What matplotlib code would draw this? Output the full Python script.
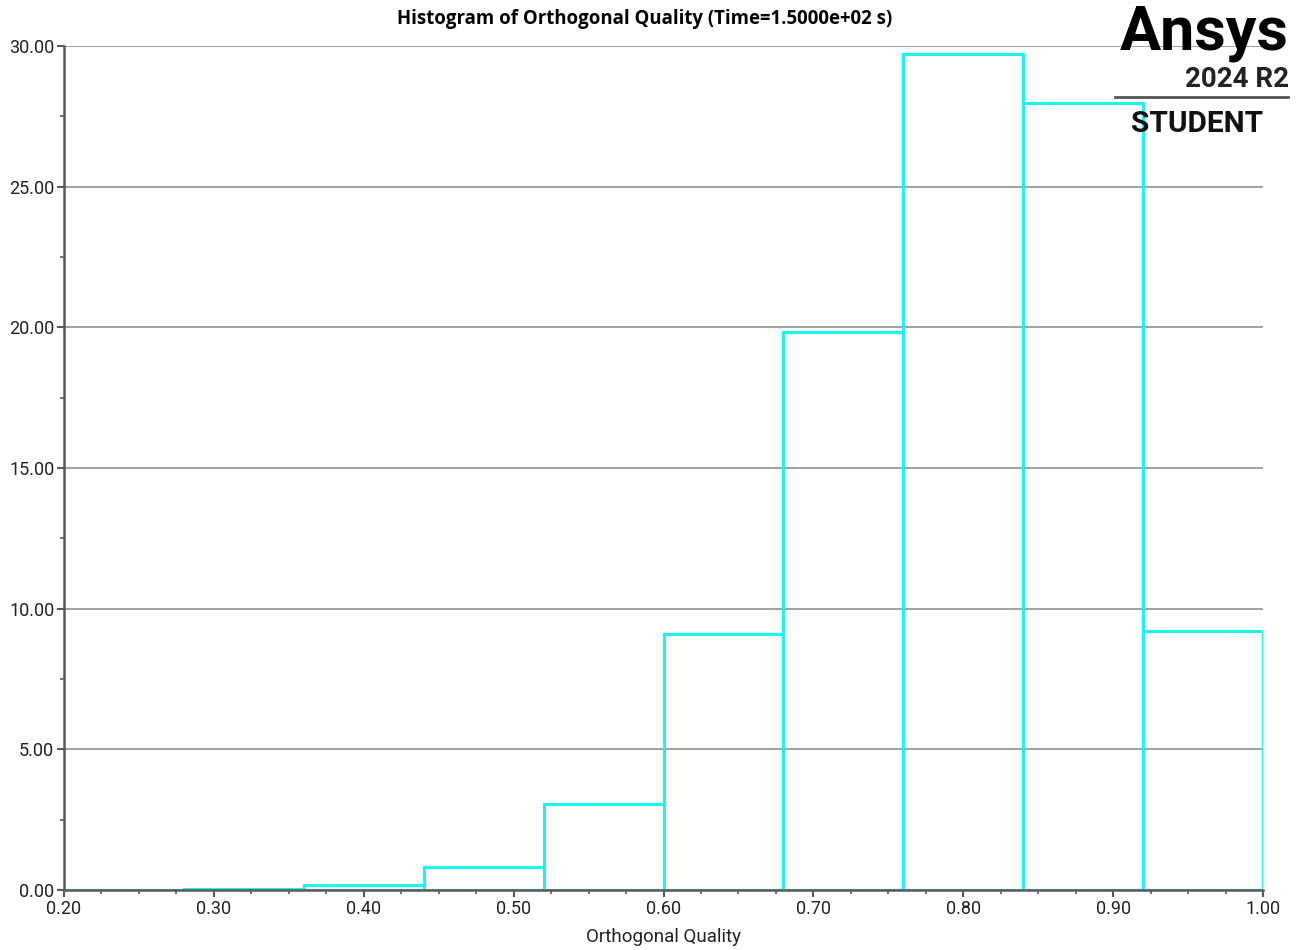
import matplotlib
matplotlib.use("Agg")
import matplotlib.pyplot as plt
from matplotlib.ticker import MultipleLocator, FormatStrFormatter
import numpy as np

# orthogonal quality histogram, percent of cells per bin
bin_edges = [0.20, 0.28, 0.36, 0.44, 0.52, 0.60, 0.68, 0.76, 0.84, 0.92, 1.00]
percent = [0.0, 0.05, 0.18, 0.82, 3.06, 9.10, 19.84, 29.72, 27.98, 9.21]

title = "Histogram of Orthogonal Quality (Time=1.5000e+02 s)"
xlabel = "Orthogonal Quality"

cyan = "#19f5f5"
axis_gray = "#5a5a5a"
grid_gray = "#9a9a9a"
text_col = "#222222"

plt.rcParams["font.family"] = ["Roboto", "DejaVu Sans"]

fig = plt.figure(figsize=(13.02, 9.5), dpi=100)
ax = fig.add_axes([64 / 1302, 1 - 890 / 950, (1263 - 64) / 1302, (890 - 46) / 950])

lefts = np.array(bin_edges[:-1])
widths = np.diff(bin_edges)
ax.bar(lefts, percent, width=widths, align="edge", fill=False,
       edgecolor=cyan, linewidth=2.2, zorder=2)

ax.set_xlim(0.20, 1.00)
ax.set_ylim(0, 30)
ax.xaxis.set_major_locator(MultipleLocator(0.1))
ax.xaxis.set_minor_locator(MultipleLocator(0.025))
ax.yaxis.set_major_locator(MultipleLocator(5))
ax.yaxis.set_minor_locator(MultipleLocator(2.5))
ax.xaxis.set_major_formatter(FormatStrFormatter("%.2f"))
ax.yaxis.set_major_formatter(FormatStrFormatter("%.2f"))

ax.grid(axis="y", which="major", color=grid_gray, linewidth=1.3, zorder=1)
ax.set_axisbelow(True)
for side in ("top", "right"):
    ax.spines[side].set_visible(False)
for side in ("left", "bottom"):
    ax.spines[side].set_color(axis_gray)
    ax.spines[side].set_linewidth(1.8)
    ax.spines[side].set_zorder(3)

ax.tick_params(which="major", length=5, width=1.5, color=axis_gray,
               labelsize=13, labelcolor=text_col, pad=2)
ax.tick_params(which="minor", length=3, width=1.2, color=axis_gray)

fig.text(645 / 1302, 1 - 19 / 950, title, ha="center", va="center",
         fontsize=13.4, fontweight="bold", color="black",
         family=["Open Sans", "DejaVu Sans"])
fig.text(664 / 1302, 1 - 937 / 950, xlabel, ha="center", va="center",
         fontsize=13.5, color=text_col)

# product badge, upper right
fig.text(1289 / 1302, 1 - 49 / 950, "Ansys", ha="right", va="baseline",
         fontsize=44, fontweight="bold", color="black")
fig.text(1289 / 1302, 1 - 87 / 950, "2024 R2", ha="right", va="baseline",
         fontsize=20, fontweight="bold", color="#222222")
fig.add_artist(plt.Line2D([1115 / 1302, 1288 / 1302], [1 - 97 / 950, 1 - 97 / 950],
                          color="#555555", linewidth=2))
fig.text(1197 / 1302, 1 - 132 / 950, "STUDENT", ha="center", va="baseline",
         fontsize=21.5, fontweight="bold", color="#111111")

fig.savefig("out.png", dpi=100)
